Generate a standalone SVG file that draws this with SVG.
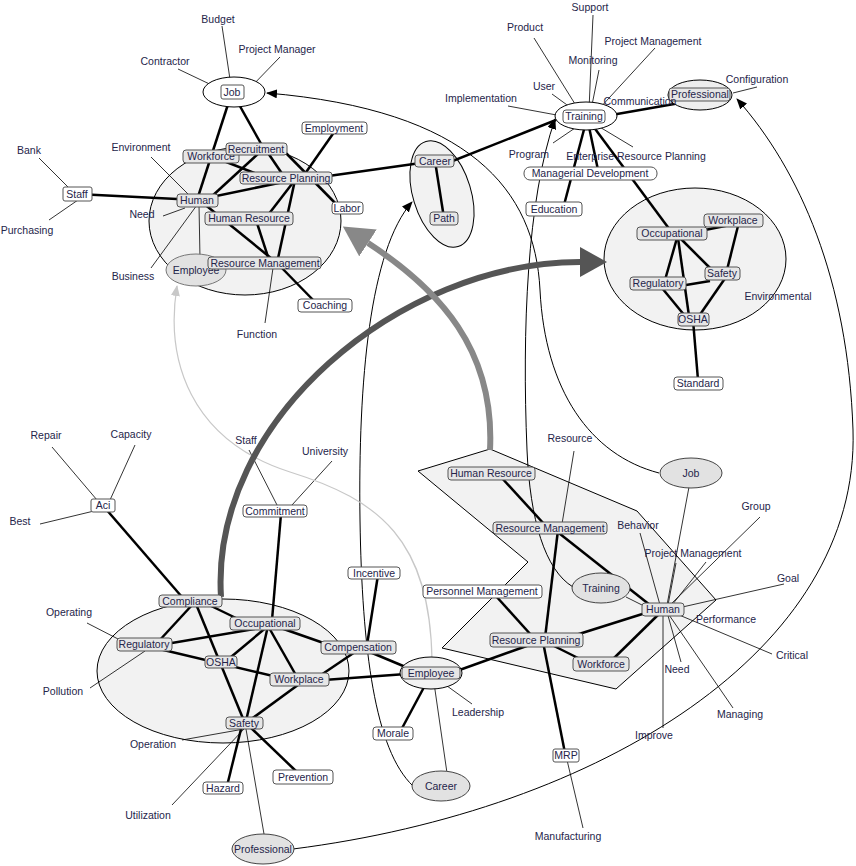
<svg xmlns="http://www.w3.org/2000/svg" width="856" height="866" viewBox="0 0 856 866">
<style>
text{font-family:"Liberation Sans",Arial,sans-serif;font-size:10.5px;fill:#25254a;text-anchor:middle}
.g{fill:#e6e6e6;stroke:#555;stroke-width:1}
.w{fill:#fff;stroke:#555;stroke-width:1}
.cl{fill:#f2f2f2;stroke:#000;stroke-width:1}
.oe{fill:#e2e2e2;stroke:#444;stroke-width:1}
.k{stroke:#000;stroke-width:2.5;fill:none}
.t{stroke:#000;stroke-width:0.8;fill:none}
.c{stroke:#000;stroke-width:1;fill:none}
</style>
<defs>
<marker id="ah" markerUnits="userSpaceOnUse" markerWidth="11" markerHeight="9" refX="10" refY="4.5" orient="auto"><path d="M0,0 L11,4.5 L0,9 z" fill="#000"/></marker>
<marker id="ahg" markerUnits="userSpaceOnUse" markerWidth="11" markerHeight="9" refX="10" refY="4.5" orient="auto"><path d="M0,0 L11,4.5 L0,9 z" fill="#c8c8c8"/></marker>
<marker id="big1" markerUnits="userSpaceOnUse" markerWidth="27" markerHeight="30" refX="0" refY="15" orient="auto"><path d="M0,0 L27,15 L0,30 z" fill="#555"/></marker>
<marker id="big2" markerUnits="userSpaceOnUse" markerWidth="30" markerHeight="32" refX="0" refY="16" orient="auto"><path d="M0,0 L30,16 L0,32 z" fill="#888"/></marker>
</defs>

<g id="clusters">
<ellipse class="cl" cx="245" cy="221" rx="96" ry="74"/>
<ellipse class="cl" cx="442" cy="194" rx="29" ry="55" transform="rotate(-17 442 194)"/>
<ellipse class="cl" cx="695" cy="259" rx="91" ry="71"/>
<ellipse class="cl" cx="223" cy="671" rx="126" ry="72"/>
<polygon class="cl" stroke-width="1.5" points="418,471 490,449 637,511 716,600 616,689 442,648 528,562"/>
</g>

<g id="connectors">
<line class="k" x1="232" y1="92" x2="197" y2="200"/>
<line class="k" x1="232" y1="92" x2="264" y2="149"/>
<line class="k" x1="211" y1="156" x2="262" y2="176"/>
<line class="k" x1="260" y1="152" x2="210" y2="198"/>
<line class="k" x1="266" y1="150" x2="285" y2="178"/>
<line class="k" x1="283" y1="150" x2="340" y2="208"/>
<line class="k" x1="197" y1="200" x2="293" y2="180"/>
<line class="k" x1="295" y1="180" x2="268" y2="215"/>
<line class="k" x1="295" y1="180" x2="277" y2="263"/>
<line class="k" x1="203" y1="203" x2="277" y2="263"/>
<line class="k" x1="256" y1="220" x2="270" y2="263"/>
<line class="k" x1="277" y1="263" x2="318" y2="305"/>
<line class="k" x1="77" y1="194" x2="197" y2="200"/>
<line class="k" x1="302" y1="178" x2="337" y2="128"/>
<line class="k" x1="300" y1="180" x2="435" y2="161"/>
<line class="k" x1="440" y1="166" x2="556" y2="120"/>
<line class="t" x1="231" y1="86" x2="222" y2="26"/>
<line class="t" x1="250" y1="88" x2="280" y2="57"/>
<line class="t" x1="220" y1="89" x2="178" y2="69"/>
<line class="t" x1="70" y1="189" x2="39" y2="158"/>
<line class="t" x1="78" y1="200" x2="49" y2="220"/>
<line class="t" x1="189" y1="195" x2="151" y2="157"/>
<line class="t" x1="185" y1="208" x2="163" y2="216"/>
<line class="t" x1="197" y1="205" x2="151" y2="268"/>
<line class="t" x1="199" y1="205" x2="200" y2="258"/>
<line class="t" x1="273" y1="268" x2="265" y2="323"/>

<line class="k" x1="586" y1="122" x2="564" y2="205"/>
<line class="k" x1="588" y1="122" x2="598" y2="170"/>
<line class="k" x1="590" y1="122" x2="670" y2="230"/>
<line class="k" x1="600" y1="117" x2="697" y2="100"/>
<line class="k" x1="435" y1="161" x2="444" y2="218"/>
<line class="t" x1="589" y1="110" x2="593" y2="15"/>
<line class="t" x1="580" y1="112" x2="534" y2="38"/>
<line class="t" x1="598" y1="110" x2="655" y2="48"/>
<line class="t" x1="591" y1="110" x2="599" y2="70"/>
<line class="t" x1="574" y1="110" x2="552" y2="94"/>
<line class="t" x1="562" y1="116" x2="508" y2="106"/>
<line class="t" x1="578" y1="126" x2="553" y2="143"/>
<line class="t" x1="598" y1="126" x2="633" y2="147"/>
<line class="t" x1="733" y1="93" x2="757" y2="87"/>

<line class="k" x1="690" y1="233" x2="735" y2="224"/>
<line class="k" x1="739" y1="222" x2="727" y2="270"/>
<line class="k" x1="677" y1="238" x2="665" y2="280"/>
<line class="k" x1="678" y1="238" x2="689" y2="316"/>
<line class="k" x1="680" y1="238" x2="712" y2="270"/>
<line class="k" x1="680" y1="286" x2="710" y2="281"/>
<line class="k" x1="662" y1="288" x2="685" y2="316"/>
<line class="k" x1="726" y1="277" x2="699" y2="316"/>
<line class="k" x1="693" y1="320" x2="698" y2="380"/>

<line class="k" x1="105" y1="508" x2="182" y2="597"/>
<line class="k" x1="281" y1="514" x2="272" y2="620"/>
<line class="t" x1="277" y1="505" x2="249" y2="450"/>
<line class="t" x1="292" y1="505" x2="332" y2="461"/>
<line class="t" x1="97" y1="500" x2="52" y2="447"/>
<line class="t" x1="110" y1="500" x2="135" y2="445"/>
<line class="t" x1="94" y1="511" x2="40" y2="524"/>
<line class="k" x1="193" y1="604" x2="158" y2="642"/>
<line class="k" x1="205" y1="603" x2="240" y2="620"/>
<line class="k" x1="196" y1="604" x2="244" y2="721"/>
<line class="k" x1="160" y1="645" x2="260" y2="628"/>
<line class="k" x1="155" y1="648" x2="290" y2="680"/>
<line class="k" x1="268" y1="626" x2="225" y2="662"/>
<line class="k" x1="268" y1="626" x2="297" y2="677"/>
<line class="k" x1="268" y1="626" x2="246" y2="721"/>
<line class="k" x1="275" y1="626" x2="335" y2="647"/>
<line class="k" x1="302" y1="682" x2="250" y2="720"/>
<line class="k" x1="358" y1="650" x2="318" y2="677"/>
<line class="k" x1="365" y1="650" x2="420" y2="673"/>
<line class="k" x1="310" y1="681" x2="420" y2="673"/>
<line class="k" x1="378" y1="575" x2="367" y2="645"/>
<line class="k" x1="430" y1="676" x2="400" y2="732"/>
<line class="k" x1="242" y1="725" x2="227" y2="786"/>
<line class="k" x1="248" y1="725" x2="298" y2="773"/>
<line class="t" x1="433" y1="676" x2="447" y2="773"/>
<line class="t" x1="436" y1="678" x2="472" y2="704"/>
<line class="t" x1="120" y1="640" x2="87" y2="623"/>
<line class="t" x1="145" y1="651" x2="90" y2="688"/>
<line class="t" x1="244" y1="729" x2="182" y2="740"/>
<line class="t" x1="244" y1="729" x2="172" y2="805"/>
<line class="t" x1="246" y1="729" x2="264" y2="834"/>

<line class="k" x1="500" y1="476" x2="545" y2="525"/>
<line class="k" x1="555" y1="530" x2="655" y2="609"/>
<line class="k" x1="558" y1="530" x2="545" y2="638"/>
<line class="k" x1="543" y1="642" x2="565" y2="753"/>
<line class="k" x1="495" y1="595" x2="532" y2="636"/>
<line class="k" x1="560" y1="640" x2="655" y2="610"/>
<line class="k" x1="550" y1="644" x2="590" y2="664"/>
<line class="k" x1="610" y1="662" x2="662" y2="611"/>
<line class="k" x1="440" y1="677" x2="535" y2="643"/>
<line class="t" x1="626" y1="597" x2="648" y2="608"/>
<line class="t" x1="689" y1="487" x2="667" y2="605"/>
<line class="t" x1="574" y1="451" x2="562" y2="524"/>
<line class="t" x1="660" y1="605" x2="640" y2="533"/>
<line class="t" x1="668" y1="605" x2="676" y2="563"/>
<line class="t" x1="670" y1="605" x2="760" y2="517"/>
<line class="t" x1="672" y1="605" x2="706" y2="562"/>
<line class="t" x1="678" y1="608" x2="784" y2="584"/>
<line class="t" x1="672" y1="612" x2="772" y2="654"/>
<line class="t" x1="667" y1="612" x2="681" y2="662"/>
<line class="t" x1="667" y1="612" x2="733" y2="708"/>
<line class="t" x1="663" y1="612" x2="663" y2="728"/>
<line class="t" x1="567" y1="760" x2="583" y2="828"/>

<path class="c" d="M659,473 C590,455 545,390 540,290 C535,190 470,110 267,93" marker-end="url(#ah)"/>
<path class="c" d="M573,587 C545,570 530,520 527,450 C522,330 527,200 555,119" marker-end="url(#ah)"/>
<path class="c" d="M413,786 C375,750 362,650 360,520 C358,380 370,250 412,202" marker-end="url(#ah)"/>
<path d="M432,660 C430,540 380,500 290,472 C190,440 165,360 177,286" fill="none" stroke="#c8c8c8" stroke-width="1.2" marker-end="url(#ahg)"/>
<path class="c" d="M293,849 C600,810 860,650 853,430 C848,280 800,170 737,99" marker-end="url(#ah)"/>
<path d="M221,597 C210,420 400,262 580,262" fill="none" stroke="#555" stroke-width="6" marker-end="url(#big1)"/>
<path d="M490,450 C495,350 440,290 368,243" fill="none" stroke="#888" stroke-width="6" marker-end="url(#big2)"/>
</g>

<g id="n-job1"><ellipse cx="234" cy="92" rx="31" ry="15" fill="#fff" stroke="#000"/><rect class="w" x="221" y="85" width="23" height="14" rx="2"/><text x="232" y="96">Job</text></g>
<g id="n-employee1"><ellipse cx="196" cy="270" rx="30" ry="16" fill="#e2e2e2" stroke="#777"/><text x="196" y="274">Employee</text></g>
<g id="n-workforce1"><rect class="g" x="183" y="150" width="56" height="13" rx="3"/><text x="211" y="160">Workforce</text></g>
<g id="n-recruitment1"><rect class="g" x="226" y="143" width="61" height="12" rx="3"/><text x="256" y="153">Recruitment</text></g>
<g id="n-employment1"><rect class="w" x="302" y="122" width="65" height="12" rx="3"/><text x="334" y="132">Employment</text></g>
<g id="n-rp1"><rect class="g" x="240" y="172" width="92" height="12" rx="3"/><text x="286" y="182">Resource Planning</text></g>
<g id="n-human1"><rect class="g" x="177" y="194" width="41" height="13" rx="3"/><text x="197" y="204">Human</text></g>
<g id="n-labor1"><rect class="w" x="332" y="202" width="31" height="12" rx="3"/><text x="347" y="212">Labor</text></g>
<g id="n-hr1"><rect class="g" x="205" y="212" width="88" height="13" rx="3"/><text x="249" y="222">Human Resource</text></g>
<g id="n-rm1"><rect class="g" x="208" y="257" width="113" height="12" rx="3"/><text x="265" y="267">Resource Management</text></g>
<g id="n-coaching1"><rect class="w" x="298" y="299" width="54" height="13" rx="3"/><text x="325" y="309">Coaching</text></g>
<g id="n-staff1"><rect class="w" x="63" y="187" width="29" height="14" rx="2"/><text x="77" y="198">Staff</text></g>

<g id="n-training1"><ellipse cx="586" cy="116" rx="31" ry="14" fill="#fff" stroke="#000"/><rect class="w" x="563" y="110" width="42" height="13" rx="3"/><text x="584" y="120">Training</text></g>
<g id="n-professional1"><ellipse cx="700" cy="95" rx="32" ry="15" fill="#eee" stroke="#000"/><rect class="g" x="669" y="88" width="61" height="13" rx="3"/><text x="700" y="98">Professional</text></g>
<g id="n-md"><rect class="w" x="524" y="167" width="133" height="13" rx="6"/><text x="590" y="177">Managerial Development</text></g>
<g id="n-education"><rect class="w" x="526" y="202" width="56" height="14" rx="3"/><text x="554" y="213">Education</text></g>
<g id="n-career1"><rect class="g" x="415" y="155" width="39" height="12" rx="3"/><text x="435" y="165">Career</text></g>
<g id="n-path"><rect class="g" x="430" y="212" width="28" height="13" rx="3"/><text x="444" y="222">Path</text></g>

<g id="n-occ1"><rect class="g" x="637" y="227" width="70" height="13" rx="3"/><text x="672" y="237">Occupational</text></g>
<g id="n-wp1"><rect class="g" x="704" y="214" width="59" height="13" rx="3"/><text x="733" y="224">Workplace</text></g>
<g id="n-safety1"><rect class="g" x="705" y="267" width="35" height="13" rx="3"/><text x="722" y="277">Safety</text></g>
<g id="n-reg1"><rect class="g" x="630" y="277" width="56" height="13" rx="3"/><text x="658" y="287">Regulatory</text></g>
<g id="n-osha1"><rect class="g" x="678" y="313" width="31" height="13" rx="3"/><text x="693" y="323">OSHA</text></g>
<g id="n-standard"><rect class="w" x="674" y="377" width="49" height="13" rx="3"/><text x="698" y="387">Standard</text></g>

<g id="n-aci"><rect class="w" x="91" y="499" width="24" height="13" rx="2"/><text x="103" y="509">Aci</text></g>
<g id="n-commitment"><rect class="w" x="243" y="505" width="64" height="12" rx="3"/><text x="275" y="515">Commitment</text></g>
<g id="n-compliance"><rect class="g" x="159" y="595" width="63" height="12" rx="3"/><text x="190" y="605">Compliance</text></g>
<g id="n-occ2"><rect class="g" x="230" y="617" width="70" height="13" rx="3"/><text x="265" y="627">Occupational</text></g>
<g id="n-reg2"><rect class="g" x="117" y="638" width="55" height="13" rx="3"/><text x="144" y="648">Regulatory</text></g>
<g id="n-osha2"><rect class="g" x="205" y="656" width="32" height="12" rx="3"/><text x="221" y="666">OSHA</text></g>
<g id="n-comp"><rect class="g" x="321" y="641" width="75" height="13" rx="3"/><text x="358" y="651">Compensation</text></g>
<g id="n-wp2"><rect class="g" x="270" y="673" width="59" height="13" rx="3"/><text x="299" y="683">Workplace</text></g>
<g id="n-safety2"><rect class="g" x="226" y="717" width="37" height="12" rx="3"/><text x="244" y="727">Safety</text></g>
<g id="n-employee2"><ellipse cx="431" cy="673" rx="31" ry="16" fill="#f2f2f2" stroke="#000"/><rect class="g" x="402" y="667" width="58" height="12" rx="3"/><text x="431" y="677">Employee</text></g>
<g id="n-incentive"><rect class="w" x="348" y="567" width="52" height="12" rx="3"/><text x="374" y="577">Incentive</text></g>
<g id="n-morale"><rect class="w" x="373" y="727" width="40" height="13" rx="3"/><text x="393" y="737">Morale</text></g>
<g id="n-career2"><ellipse class="oe" cx="441" cy="786" rx="29" ry="15"/><text x="441" y="790">Career</text></g>
<g id="n-hazard"><rect class="w" x="203" y="782" width="40" height="12" rx="3"/><text x="223" y="792">Hazard</text></g>
<g id="n-prevention"><rect class="w" x="273" y="770" width="60" height="14" rx="3"/><text x="303" y="781">Prevention</text></g>
<g id="n-professional2"><ellipse class="oe" cx="263" cy="849" rx="31" ry="15"/><text x="263" y="853">Professional</text></g>

<g id="n-hr2"><rect class="g" x="448" y="467" width="87" height="13" rx="3"/><text x="491" y="477">Human Resource</text></g>
<g id="n-rm2"><rect class="g" x="493" y="522" width="114" height="12" rx="3"/><text x="550" y="532">Resource Management</text></g>
<g id="n-pm"><rect class="w" x="423" y="585" width="119" height="13" rx="3"/><text x="482" y="595">Personnel Management</text></g>
<g id="n-training2"><ellipse class="oe" cx="601" cy="588" rx="29" ry="15"/><text x="601" y="592">Training</text></g>
<g id="n-human2"><rect class="g" x="642" y="603" width="42" height="13" rx="3"/><text x="663" y="613">Human</text></g>
<g id="n-rp2"><rect class="g" x="490" y="633" width="93" height="14" rx="3"/><text x="536" y="644">Resource Planning</text></g>
<g id="n-wf2"><rect class="g" x="573" y="657" width="56" height="14" rx="3"/><text x="601" y="668">Workforce</text></g>
<g id="n-job2"><ellipse class="oe" cx="691" cy="473" rx="31" ry="15"/><text x="691" y="477">Job</text></g>
<g id="n-mrp"><rect class="w" x="553" y="749" width="26" height="13" rx="2"/><text x="566" y="759">MRP</text></g>

<g id="labels">
<text x="218" y="23">Budget</text>
<text x="277" y="53">Project Manager</text>
<text x="165" y="65">Contractor</text>
<text x="29" y="154">Bank</text>
<text x="27" y="234">Purchasing</text>
<text x="141" y="151">Environment</text>
<text x="142" y="218">Need</text>
<text x="133" y="280">Business</text>
<text x="257" y="338">Function</text>
<text x="590" y="11">Support</text>
<text x="525" y="31">Product</text>
<text x="653" y="45">Project Management</text>
<text x="593" y="64">Monitoring</text>
<text x="544" y="90">User</text>
<text x="481" y="102">Implementation</text>
<text x="640" y="105">Communication</text>
<text x="529" y="158">Program</text>
<text x="636" y="160">Enterprise Resource Planning</text>
<text x="757" y="83">Configuration</text>
<text x="778" y="300">Environmental</text>
<text x="46" y="439">Repair</text>
<text x="131" y="438">Capacity</text>
<text x="20" y="525">Best</text>
<text x="246" y="444">Staff</text>
<text x="325" y="455">University</text>
<text x="69" y="616">Operating</text>
<text x="63" y="695">Pollution</text>
<text x="153" y="748">Operation</text>
<text x="148" y="819">Utilization</text>
<text x="478" y="716">Leadership</text>
<text x="570" y="442">Resource</text>
<text x="638" y="529">Behavior</text>
<text x="693" y="557">Project Management</text>
<text x="756" y="510">Group</text>
<text x="788" y="582">Goal</text>
<text x="726" y="623">Performance</text>
<text x="792" y="659">Critical</text>
<text x="677" y="673">Need</text>
<text x="740" y="718">Managing</text>
<text x="654" y="739">Improve</text>
<text x="568" y="840">Manufacturing</text>
</g>
</svg>
